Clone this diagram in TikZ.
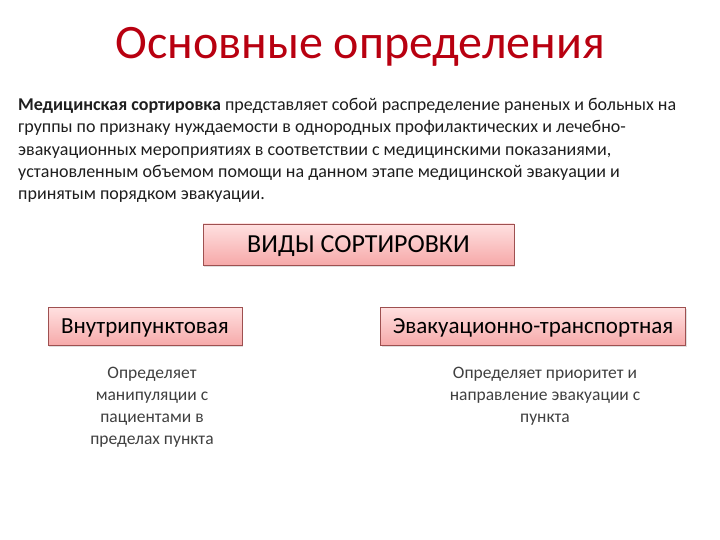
\documentclass[tikz,border=0pt]{standalone}
\usepackage{fontspec}
\setmainfont{Carlito}
\usetikzlibrary{positioning,shadows}
\definecolor{titlered}{HTML}{B80010}
\definecolor{boxtop}{HTML}{FFE0E0}
\definecolor{boxbottom}{HTML}{F6A9A9}
\definecolor{boxline}{HTML}{9E5050}
\definecolor{bodytext}{HTML}{1E1E1E}
\begin{document}
\begin{tikzpicture}[
        x=1pt, y=-1pt,
        kindbox/.style={draw=boxline, line width=0.5pt, top color=boxtop, bottom color=boxbottom,
            inner sep=0pt, text depth=0pt,
            drop shadow={opacity=0.25, shadow xshift=1pt, shadow yshift=-1.5pt}},
        note/.style={align=center, text=bodytext!85, font=\fontsize{17.5}{22}\selectfont}
    ]
    \useasboundingbox (0,0) rectangle (720,540);
    \node [text=titlered, font=\fontsize{48}{50}\selectfont] (title) at (360,47) {Основные определения};
    \node [anchor=north west, align=left, text=bodytext, inner sep=0pt,
        font=\fontsize{18}{22.3}\selectfont] (defn) at (18,98)
        {\textbf{Медицинская сортировка} представляет собой распределение раненых и больных на\\
         группы по признаку нуждаемости в однородных профилактических и лечебно-\\
         эвакуационных мероприятиях в соответствии с медицинскими показаниями,\\
         установленным объемом помощи на данном этапе медицинской эвакуации и\\
         принятым порядком эвакуации.};
    \node [kindbox, text height=16.7pt, minimum width=311pt, minimum height=41pt, font=\fontsize{26}{28}\selectfont] (kinds) at (358.5,244.5) {ВИДЫ СОРТИРОВКИ};
    \node [kindbox, text height=14.8pt, minimum width=194pt, minimum height=38pt, font=\fontsize{23}{25}\selectfont] (inner) at (145,326.5) {Внутрипунктовая};
    \node [kindbox, text height=14.8pt, minimum width=305pt, minimum height=38pt, font=\fontsize{23}{25}\selectfont] (evac) at (533,326.5) {Эвакуационно-транспортная};
    \node [note, anchor=north] (innernote) at (152,364) {Определяет\\манипуляции с\\пациентами в\\пределах пункта};
    \node [note, anchor=north] (evacnote) at (545,364) {Определяет приоритет и\\направление эвакуации с\\пункта};
\end{tikzpicture}
\end{document}
